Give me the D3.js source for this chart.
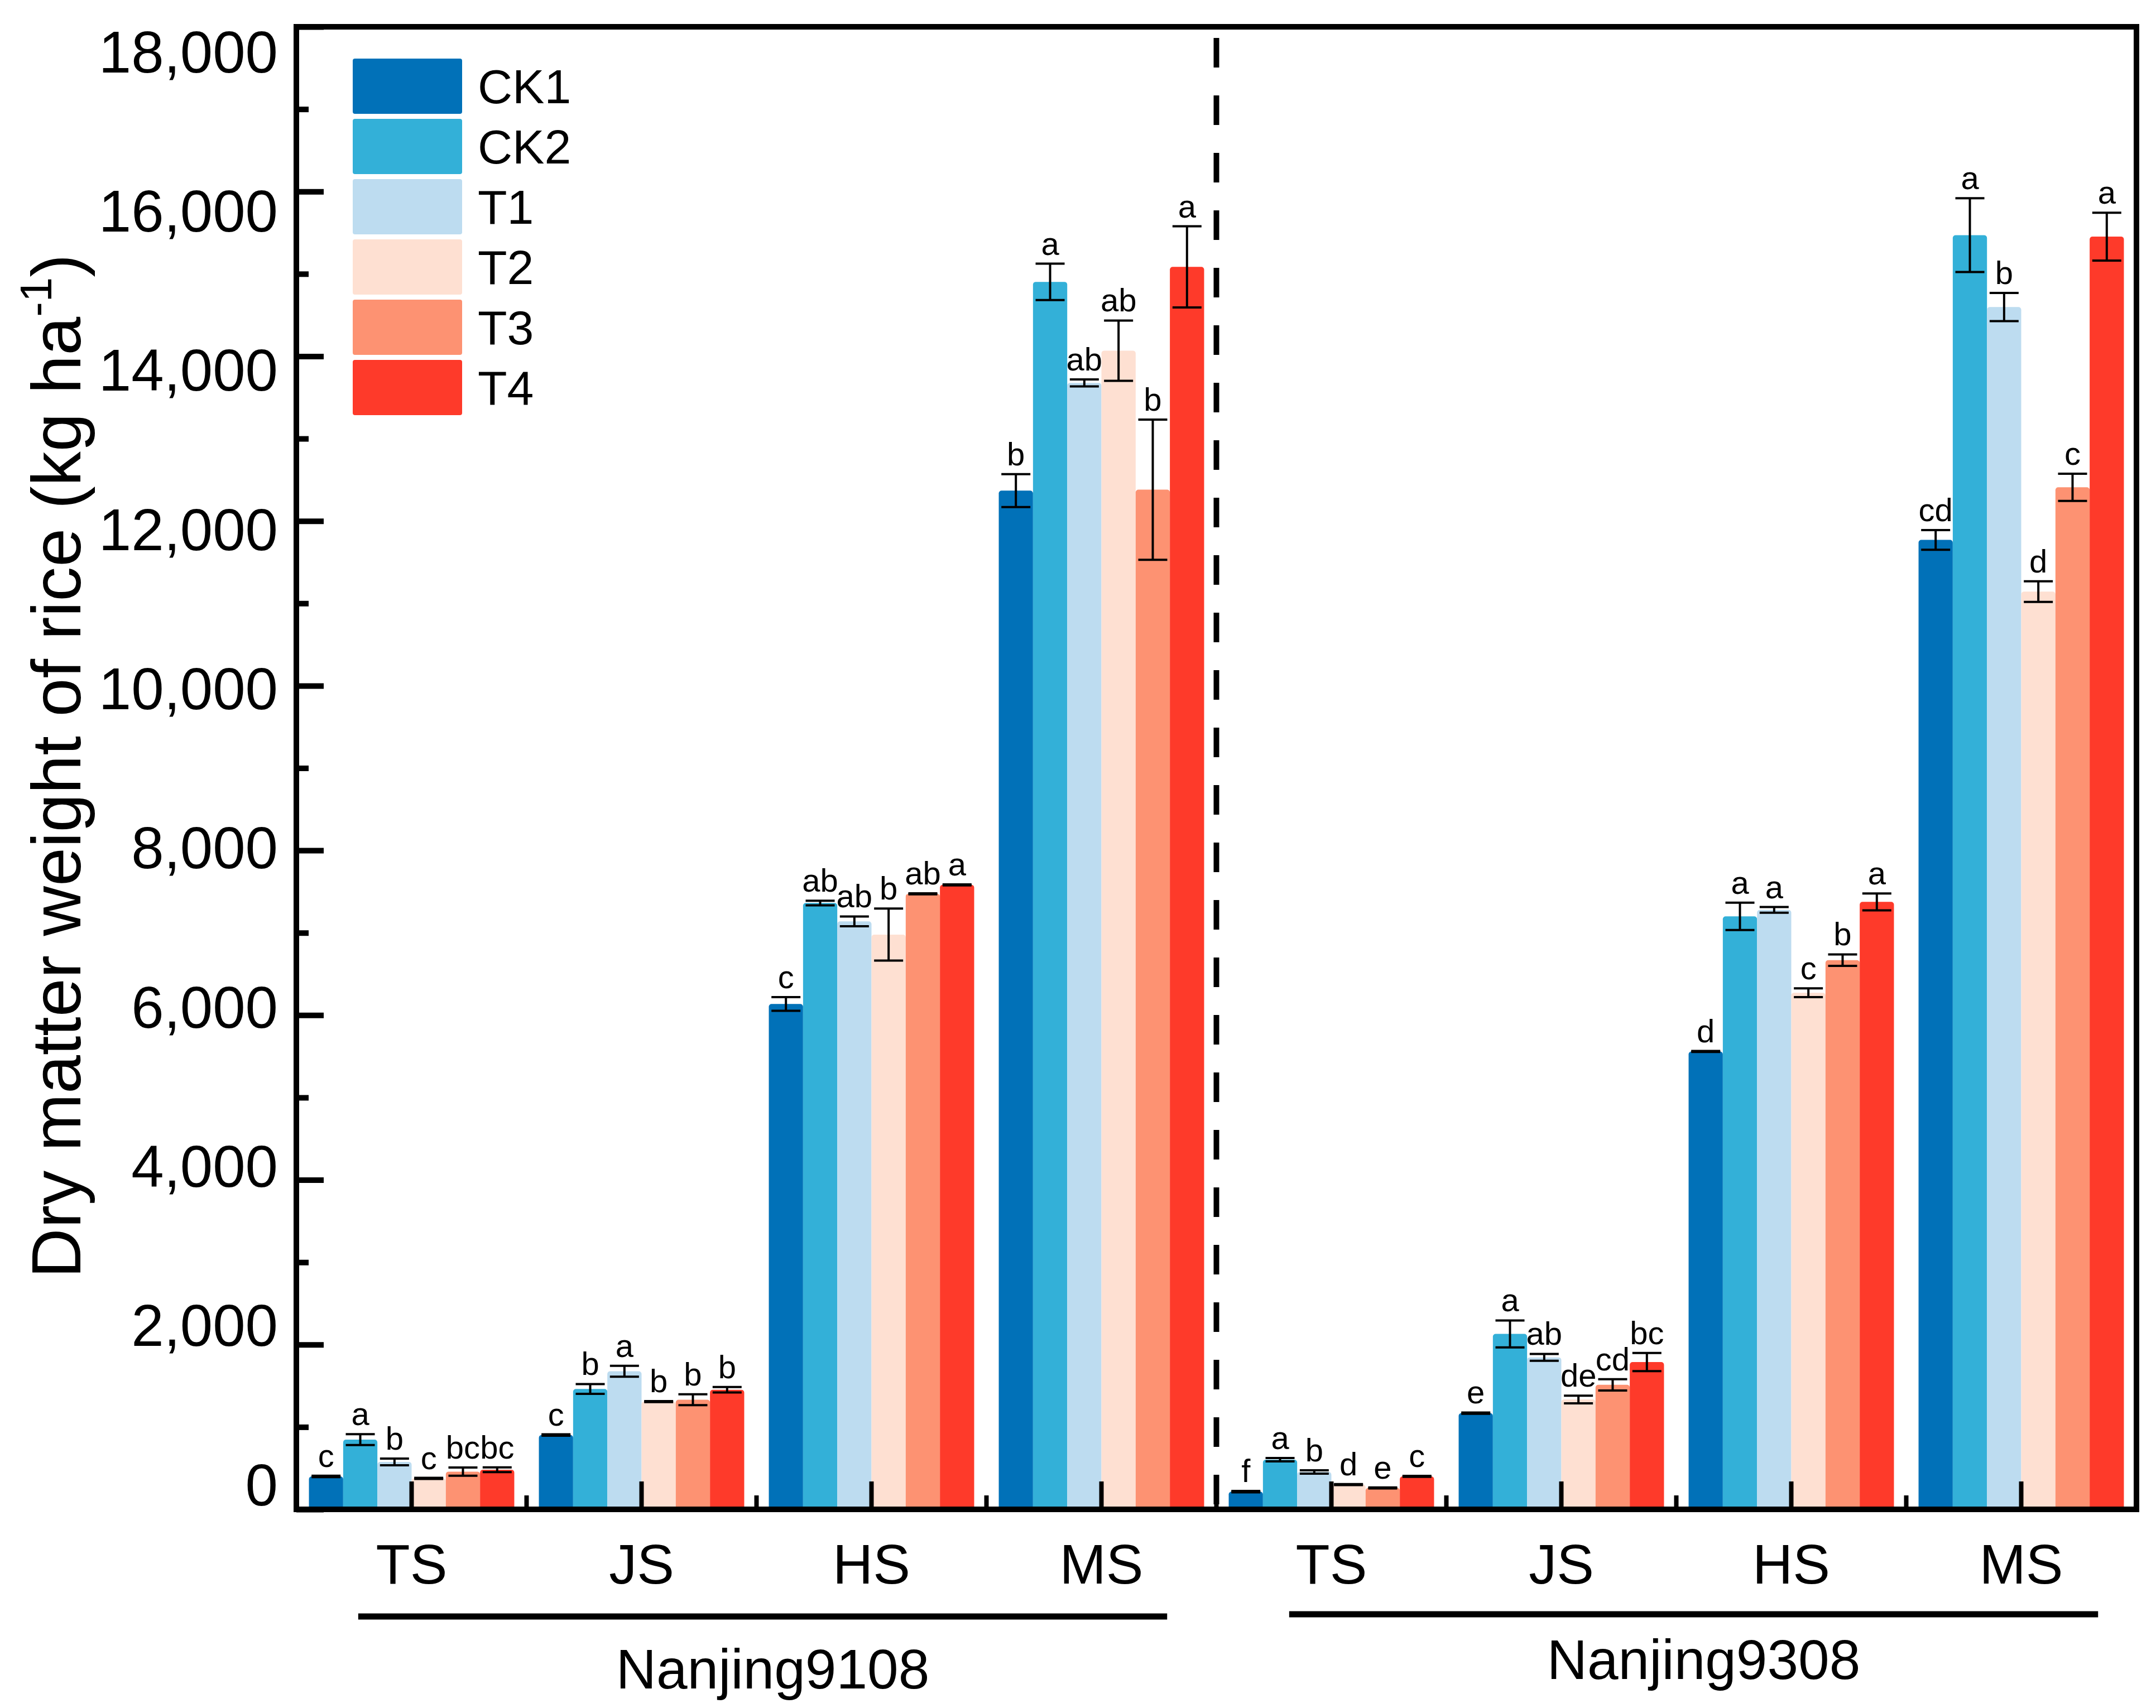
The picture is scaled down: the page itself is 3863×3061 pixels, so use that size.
<!DOCTYPE html>
<html lang="en">
<head>
<meta charset="UTF-8">
<title>Dry matter weight of rice</title>
<script src="https://cdnjs.cloudflare.com/ajax/libs/d3/7.8.5/d3.min.js"></script>
<style>
    body { margin: 0; background: #fff; }
    svg { display: block; font-family: Arial, "Liberation Sans", sans-serif; }
</style>
</head>
<body>
<svg id="chart"></svg>
<script>
const cultivars = ["Nanjing9108", "Nanjing9308"];
const stages = ["TS", "JS", "HS", "MS"];
const treatments = ["CK1", "CK2", "T1", "T2", "T3", "T4"];
const colors = ["#0171b8", "#33b0d8", "#bddcf0", "#fee0d2", "#fd9272", "#fe3a2a"];
const yTicks = [0, 2000, 4000, 6000, 8000, 10000, 12000, 14000, 16000, 18000];
const yMinorTicks = [1000, 3000, 5000, 7000, 9000, 11000, 13000, 15000, 17000];

// rows = stages, columns = treatments (kg/ha)
const mean9108 = [
    [400, 847, 576, 376, 458, 481],
    [903, 1462, 1676, 1308, 1331, 1452],
    [6136, 7362, 7139, 6978, 7473, 7582],
    [12369, 14903, 13676, 14068, 12380, 15085]
];
const err9108 = [
    [8, 66, 41, 6, 50, 28],
    [8, 59, 66, 6, 66, 33],
    [83, 28, 59, 316, 6, 6],
    [200, 221, 43, 366, 851, 493]
];
const letters9108 = [
    ["c", "a", "b", "c", "bc", "bc"],
    ["c", "b", "a", "b", "b", "b"],
    ["c", "ab", "ab", "b", "ab", "a"],
    ["b", "a", "ab", "ab", "b", "a"]
];
const mean9308 = [
    [215, 603, 454, 300, 260, 400],
    [1168, 2130, 1845, 1334, 1512, 1788],
    [5559, 7200, 7278, 6272, 6668, 7375],
    [11770, 15470, 14598, 11142, 12409, 15452]
];
const err9308 = [
    [8, 20, 20, 6, 6, 6],
    [8, 164, 42, 47, 69, 110],
    [6, 166, 35, 53, 70, 103],
    [119, 448, 171, 125, 165, 290]
];
const letters9308 = [
    ["f", "a", "b", "d", "e", "c"],
    ["e", "a", "ab", "de", "cd", "bc"],
    ["d", "a", "a", "c", "b", "a"],
    ["cd", "a", "b", "d", "c", "a"]
];

const width = 3863, height = 3061;
const frame = {left: 531, right: 3828, top: 48, bottom: 2705};
const svg = d3.select("#chart").attr("width", width).attr("height", height);

const means = [mean9108, mean9308], errs = [err9108, err9308], letters = [letters9108, letters9308];
const keys = [];
cultivars.forEach(c => stages.forEach(s => keys.push(c + "|" + s)));

const rows = [];
cultivars.forEach((c, ci) => stages.forEach((s, si) => treatments.forEach((t, ti) => {
    rows.push({key: c + "|" + s, treatment: t, color: colors[ti],
        value: means[ci][si][ti], err: errs[ci][si][ti], letter: letters[ci][si][ti]});
})));

const x = d3.scaleBand().domain(keys).range([frame.left, frame.right])
    .paddingInner(0.107).paddingOuter(0.0547);
const xInner = d3.scaleBand().domain(treatments).range([0, x.bandwidth()]);
const y = d3.scaleLinear().domain([0, 18000]).range([frame.bottom, frame.top]);
// the tick labels in the figure sit on a slightly tighter spacing than the ticks
const yLabel = d3.scaleLinear().domain([0, 18000]).range([2660, 92]);

// bars
svg.append("g").selectAll("rect").data(rows).join("rect")
    .attr("x", d => x(d.key) + xInner(d.treatment))
    .attr("y", d => y(d.value))
    .attr("width", xInner.bandwidth())
    .attr("height", d => y(0) - y(d.value))
    .attr("rx", 5)
    .attr("fill", d => d.color);

// error bars
const capW = 52;
const eb = svg.append("g").attr("stroke", "#000").attr("stroke-width", 4)
    .selectAll("g").data(rows).join("g")
    .attr("transform", d => `translate(${x(d.key) + xInner(d.treatment) + xInner.bandwidth() / 2},0)`);
eb.append("line").attr("y1", d => y(d.value + d.err)).attr("y2", d => y(d.value - d.err));
eb.append("line").attr("x1", -capW / 2).attr("x2", capW / 2)
    .attr("y1", d => y(d.value + d.err)).attr("y2", d => y(d.value + d.err));
eb.append("line").attr("x1", -capW / 2).attr("x2", capW / 2)
    .attr("y1", d => y(d.value - d.err)).attr("y2", d => y(d.value - d.err));

// significance letters
svg.append("g").selectAll("text").data(rows).join("text")
    .attr("x", d => x(d.key) + xInner(d.treatment) + xInner.bandwidth() / 2)
    .attr("y", d => y(d.value + d.err) - 16)
    .attr("text-anchor", "middle")
    .attr("font-size", 58)
    .text(d => d.letter);

// dashed divider between cultivars
const boundaries = keys.slice(0, -1).map(k => x(k) + x.bandwidth() + x.step() * x.paddingInner() / 2);
svg.append("line")
    .attr("x1", boundaries[3]).attr("x2", boundaries[3])
    .attr("y1", frame.top).attr("y2", frame.bottom)
    .attr("stroke", "#000").attr("stroke-width", 10)
    .attr("stroke-dasharray", "53,50").attr("stroke-dashoffset", 83);

// frame
svg.append("rect")
    .attr("x", frame.left).attr("y", frame.top)
    .attr("width", frame.right - frame.left).attr("height", frame.bottom - frame.top)
    .attr("fill", "none").attr("stroke", "#000").attr("stroke-width", 10);

// y axis ticks (inward) and labels
svg.append("g").attr("transform", `translate(${frame.left},0)`)
    .call(d3.axisRight(y).tickValues(yTicks).tickSize(49).tickFormat(""))
    .call(g => g.select(".domain").remove())
    .selectAll("line").attr("stroke-width", 10);
svg.append("g").attr("transform", `translate(${frame.left},0)`)
    .call(d3.axisRight(y).tickValues(yMinorTicks).tickSize(22).tickFormat(""))
    .call(g => g.select(".domain").remove())
    .selectAll("line").attr("stroke-width", 10);
svg.append("g").selectAll("text").data(yTicks).join("text")
    .attr("x", 498)
    .attr("y", d => yLabel(d))
    .attr("dy", "0.358em")
    .attr("text-anchor", "end")
    .attr("font-size", 105)
    .text(d3.format(","));

// x axis: stage ticks at band centres, short ticks at band boundaries
svg.append("g").attr("transform", `translate(0,${frame.bottom})`)
    .call(d3.axisBottom(x).tickSizeInner(-50).tickSizeOuter(0).tickPadding(62)
        .tickFormat(d => d.split("|")[1]))
    .call(g => g.select(".domain").remove())
    .call(g => g.selectAll("line").attr("stroke-width", 8))
    .call(g => g.selectAll("text").attr("font-size", 100)
        .attr("font-family", 'Arial, "Liberation Sans", sans-serif'));
svg.append("g").selectAll("line").data(boundaries).join("line")
    .attr("x1", d => d).attr("x2", d => d)
    .attr("y1", frame.bottom).attr("y2", frame.bottom - 25)
    .attr("stroke", "#000").attr("stroke-width", 8);

// cultivar underlines and names
const underlineY = [2897, 2893], nameY = [3026, 3009], shift = [0, 20];
cultivars.forEach((c, ci) => {
    const x1 = x(c + "|TS") + x.bandwidth() * 0.24 + shift[ci];
    const x2 = x(c + "|MS") + x.bandwidth() * 0.82 + shift[ci];
    svg.append("line").attr("x1", x1).attr("x2", x2)
        .attr("y1", underlineY[ci]).attr("y2", underlineY[ci])
        .attr("stroke", "#000").attr("stroke-width", 11);
    svg.append("text").attr("x", (x1 + x2) / 2 + 18).attr("y", nameY[ci])
        .attr("text-anchor", "middle").attr("font-size", 100).text(c);
});

// y axis title
const title = svg.append("text")
    .attr("transform", "translate(144,1373) rotate(-90)")
    .attr("text-anchor", "middle")
    .attr("font-size", 124);
title.append("tspan").text("Dry matter weight of rice (kg ha");
title.append("tspan").attr("font-size", 80).attr("dy", -52).text("-1");
title.append("tspan").attr("dy", 52).text(")");

// legend
const legend = svg.append("g").selectAll("g").data(treatments).join("g")
    .attr("transform", (d, i) => `translate(632,${105 + i * 108})`);
legend.append("rect").attr("width", 196).attr("height", 99).attr("rx", 4)
    .attr("fill", (d, i) => colors[i]);
legend.append("text").attr("x", 224).attr("y", 49.5).attr("dy", "0.358em")
    .attr("font-size", 86).text(d => d);
</script>
</body>
</html>
